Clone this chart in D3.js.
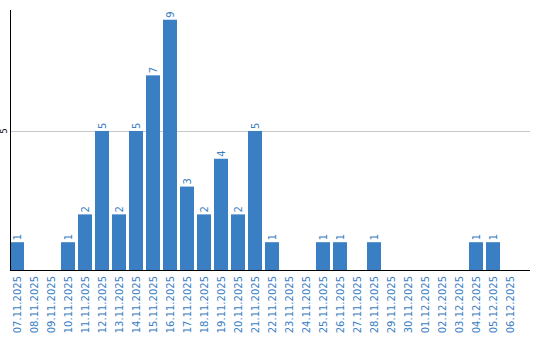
<!DOCTYPE html>
<html>
<head>
<meta charset="utf-8">
<script src="https://cdn.jsdelivr.net/npm/d3@7"></script>
<style>
  body { margin: 0; background: #fff; }
  svg { display: block; font-family: "DejaVu Sans", Verdana, sans-serif; }
</style>
</head>
<body>
<div id="chart"></div>
<script>
// dates on the x axis
var days = ['07.11.2025','08.11.2025','09.11.2025','10.11.2025','11.11.2025','12.11.2025',
  '13.11.2025','14.11.2025','15.11.2025','16.11.2025','17.11.2025','18.11.2025','19.11.2025',
  '20.11.2025','21.11.2025','22.11.2025','23.11.2025','24.11.2025','25.11.2025','26.11.2025',
  '27.11.2025','28.11.2025','29.11.2025','30.11.2025','01.12.2025','02.12.2025','03.12.2025',
  '04.12.2025','05.12.2025','06.12.2025']
// count per day
var counts = [1,0,0,1,2,5,2,5,7,9,3,2,4,2,5,1,0,0,1,1,0,1,0,0,0,0,0,1,1,0]
var yTicks = [5]

var width = 540, height = 340
var blue = "#3a7ec3"

var data = days.map(function(d, i){ return {day: d, n: counts[i]} })

var svg = d3.select("#chart").append("svg")
  .attr("width", width)
  .attr("height", height)

//band scale: step 17, bar 14
var x = d3.scaleBand().domain(days).range([10, 517]).paddingInner(3/17).paddingOuter(0).align(0)
var y = d3.scaleLinear().domain([0, 9.35]).range([270, 10])

// gridline
svg.selectAll(".grid").data(yTicks).enter().append("line")
  .attr("x1", 10).attr("x2", 530)
  .attr("y1", function(d){ return Math.round(y(d)) + 0.5 })
  .attr("y2", function(d){ return Math.round(y(d)) + 0.5 })
  .style("stroke", "#c8c8c8").style("stroke-width", 1)

// y tick labels (rotated)
svg.selectAll(".ytick").data(yTicks).enter().append("text")
  .attr("transform", function(d){ return "translate(7," + y(d) + ") rotate(-90)" })
  .attr("text-anchor", "middle")
  .style("font-size", "8px")
  .style("fill", "#000")
  .text(function(d){ return d })

// bars
svg.selectAll(".bar").data(data).enter().append("rect")
  .attr("x", function(d){ return x(d.day) })
  .attr("width", x.bandwidth())
  .attr("y", function(d){ return y(d.n) })
  .attr("height", function(d){ return y(0) - y(d.n) })
  .style("fill", blue)

// value labels
svg.selectAll(".val").data(data.filter(function(d){ return d.n > 0 })).enter().append("text")
  .attr("transform", function(d){
    return "translate(" + (x(d.day) + x.bandwidth() / 2) + "," + (y(d.n) - 2) + ") rotate(-90)"
  })
  .attr("dy", "0.35em")
  .attr("text-anchor", "start")
  .style("font-size", "10px")
  .style("fill", blue)
  .text(function(d){ return d.n })

// x labels
svg.selectAll(".xlab").data(days).enter().append("text")
  .attr("transform", function(d){
    return "translate(" + (x(d) + x.bandwidth() / 2) + ",276) rotate(-90)"
  })
  .attr("dy", "0.35em")
  .attr("text-anchor", "end")
  .style("font-size", "10px")
  .style("fill", blue)
  .text(function(d){ return d })

// axis lines
svg.append("line").attr("x1", 10.5).attr("x2", 10.5).attr("y1", 10).attr("y2", 270)
  .style("stroke", "#000").style("stroke-width", 1)
svg.append("line").attr("x1", 10).attr("x2", 530).attr("y1", 270.5).attr("y2", 270.5)
  .style("stroke", "#000").style("stroke-width", 1)
</script>
</body>
</html>
